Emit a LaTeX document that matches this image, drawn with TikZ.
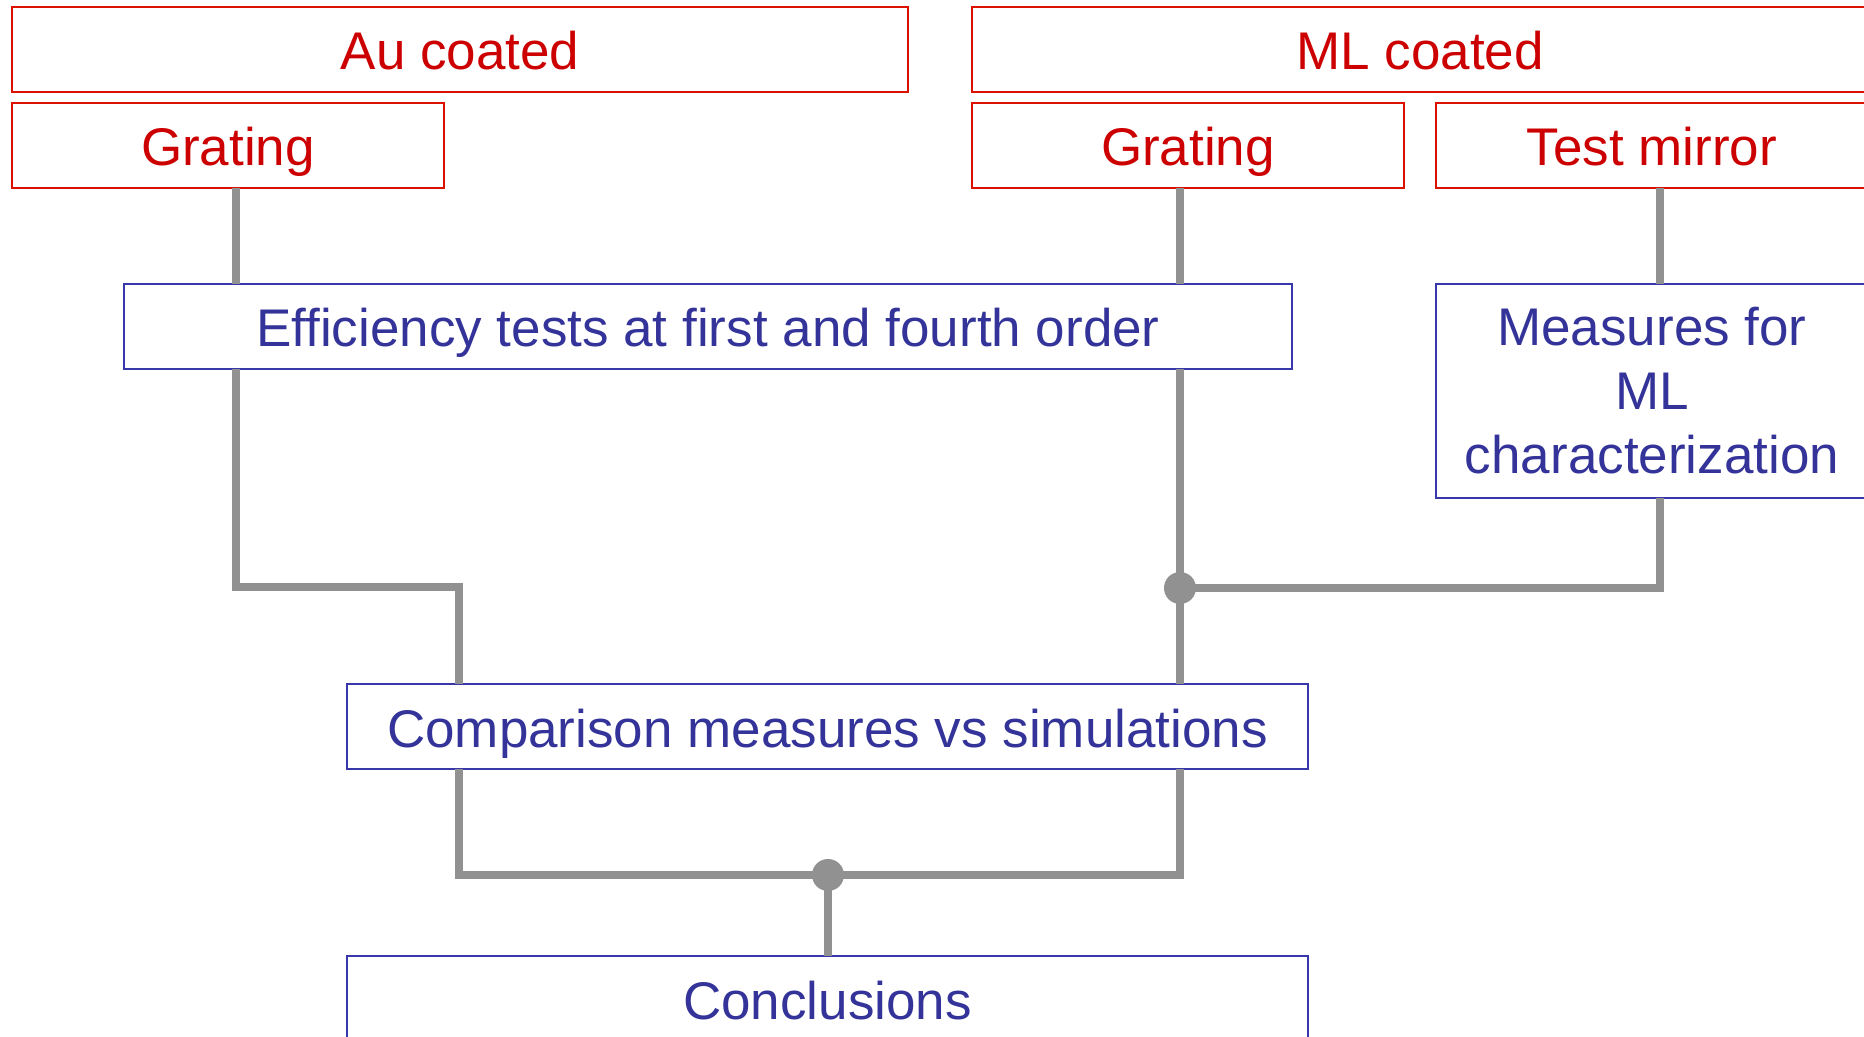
\documentclass[tikz,border=0pt]{standalone}
\usepackage{fontspec}
\setmainfont{Liberation Sans}
\definecolor{rdtext}{HTML}{CC0000}
\definecolor{rdline}{HTML}{DD1100}
\definecolor{bltext}{HTML}{333399}
\definecolor{blline}{HTML}{3838AA}
\definecolor{wiregray}{HTML}{919191}
\begin{document}
\begin{tikzpicture}[x=0.5pt,y=-0.5pt,
  box/.style={draw, line width=1pt, inner sep=0pt, outer sep=0pt, align=center,
    font=\fontsize{26.5}{32}\selectfont, anchor=north west, minimum height=42.5pt},
  oneline/.style={text height=31.5pt, text depth=11pt},
  redbox/.style={box, oneline, draw=rdline, text=rdtext},
  bluebox/.style={box, draw=blline, text=bltext},
  wire/.style={draw=wiregray, line width=4pt}]
\clip (0,0) rectangle (1864,1037);
\useasboundingbox (0,0) rectangle (1864,1037);
% nodes
\node[redbox, minimum width=448pt] (au) at (12,7) {Au coated};
\node[redbox, minimum width=448pt] (ml) at (972,7) {ML coated};
\node[redbox, minimum width=216pt] (augr) at (12,103) {Grating};
\node[redbox, minimum width=216pt] (mlgr) at (972,103) {Grating};
\node[redbox, minimum width=216pt] (tm) at (1436,103) {Test mirror};
\node[bluebox, oneline, minimum width=584pt] (eff) at (124,284) {Efficiency tests at first and fourth order};
\node[bluebox, minimum width=216pt, minimum height=107pt] (meas) at (1436,284) {Measures for\\ML\\characterization};
\node[bluebox, oneline, minimum width=480.5pt] (comp) at (347,684) {Comparison measures vs simulations};
\node[bluebox, oneline, minimum width=480.5pt] (concl) at (347,956) {Conclusions};
% junction coordinates
\coordinate (ja) at (236,587);
\coordinate (jb) at (459,587);
\coordinate (dotA) at (1180,588);
\coordinate (jc) at (1660,588);
\coordinate (jd) at (459,875);
\coordinate (je) at (1180,875);
\coordinate (dotB) at (828,875);
% connectors
\draw[wire] (augr.south -| ja) -- (eff.north -| ja);
\draw[wire] (eff.south -| ja) -- (ja) -- (jb) -- (comp.north -| jb);
\draw[wire] (mlgr.south -| dotA) -- (eff.north -| dotA);
\draw[wire] (eff.south -| dotA) -- (comp.north -| dotA);
\draw[wire] (tm.south -| jc) -- (meas.north -| jc);
\draw[wire] (meas.south -| jc) -- (jc) -- (dotA);
\draw[wire] (comp.south -| jd) -- (jd) -- (je) -- (comp.south -| je);
\draw[wire] (dotB) -- (concl.north -| dotB);
\fill[wiregray] (dotA) circle (8pt);
\fill[wiregray] (dotB) circle (8pt);
\end{tikzpicture}
\end{document}
